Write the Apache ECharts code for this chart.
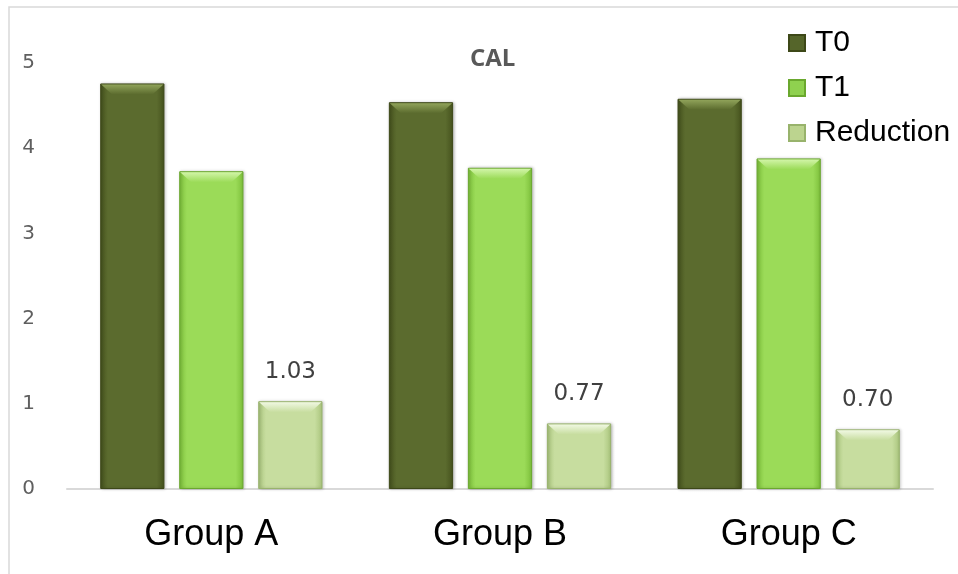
<!DOCTYPE html>
<html>
<head>
<meta charset="utf-8">
<script src="https://cdn.jsdelivr.net/npm/echarts@6/dist/echarts.min.js"></script>
<style>
  html, body { margin: 0; padding: 0; background: #fff; }
  #chart { width: 958px; height: 574px; }
</style>
</head>
<body>
<div id="chart"></div>
<script>
// CAL values per group: baseline (T0), follow-up (T1) and their difference
const groups = ['Group A', 'Group B', 'Group C'];
const t0 = [4.76, 4.54, 4.58];
const t1 = [3.73, 3.77, 3.88];
const reduction = [1.03, 0.77, 0.70];
const yTicks = [0, 1, 2, 3, 4, 5];

const seriesNames = ['T0', 'T1', 'Reduction'];
const seriesValues = [t0, t1, reduction];

const GAP_RATIO = 0.23;      // barGap and barCategoryGap
const BEVEL = 11;            // depth of the bevelled top, px

// horizontal shading so each bar looks slightly bevelled
function bevel(edge, mid) {
  return new echarts.graphic.LinearGradient(0, 0, 1, 0, [
    { offset: 0, color: edge },
    { offset: 0.12, color: mid },
    { offset: 0.88, color: mid },
    { offset: 1, color: edge }
  ]);
}

const palette = {
  T0: { edge: '#45521d', mid: '#5b6b2e', border: '#3d4818', legend: '#55652a', cap: '#90a35a' },
  T1: { edge: '#7cbf3a', mid: '#9bdb58', border: '#6aa82e', legend: '#8fd14f', cap: '#d2f5a8' },
  Reduction: { edge: '#a9c47c', mid: '#c7dd9f', border: '#98b36c', legend: '#bcd48f', cap: '#f0f8e2' }
};

function barSeries(name, values, withLabel) {
  const p = palette[name];
  return {
    name: name,
    type: 'bar',
    data: values,
    barGap: (GAP_RATIO * 100) + '%',
    barCategoryGap: (GAP_RATIO * 100) + '%',
    itemStyle: {
      color: bevel(p.edge, p.mid),
      borderColor: p.border,
      borderWidth: 1,
      shadowColor: 'rgba(0,0,0,0.25)',
      shadowBlur: 3,
      shadowOffsetX: 1
    },
    label: withLabel ? {
      show: true,
      position: 'top',
      distance: 18,
      formatter: function (d) { return d.value.toFixed(2); },
      fontFamily: 'DejaVu Sans',
      fontSize: 23,
      color: '#404040'
    } : { show: false },
    z: 2
  };
}

// lighter trapezoid on top of every bar (the bevelled cap)
const capData = [];
seriesValues.forEach(function (vals, s) {
  vals.forEach(function (v, g) { capData.push([g, v, s]); });
});

function renderCap(params, api) {
  const g = api.value(0), v = api.value(1), s = api.value(2);
  const catW = api.size([1, 0])[0];
  const n = seriesNames.length;
  const usable = catW * (1 - GAP_RATIO);
  const w = usable / (n + (n - 1) * GAP_RATIO);
  const base = api.coord([g, 0]);
  const x0 = base[0] - usable / 2 + s * w * (1 + GAP_RATIO);
  const x1 = x0 + w;
  const top = api.coord([g, v])[1];
  const b = Math.min(BEVEL, (base[1] - top) / 2);
  const c = palette[seriesNames[s]];
  return {
    type: 'polygon',
    shape: {
      points: [[x0 + 1, top + 1], [x1 - 1, top + 1], [x1 - 1 - b, top + b], [x0 + 1 + b, top + b]]
    },
    style: {
      fill: new echarts.graphic.LinearGradient(0, 0, 0, 1, [
        { offset: 0, color: c.cap },
        { offset: 1, color: c.mid }
      ])
    }
  };
}

const chart = echarts.init(document.getElementById('chart'));
chart.setOption({
  animation: false,
  backgroundColor: '#ffffff',
  graphic: [{
    type: 'rect',
    shape: { x: 9, y: 7, width: 980, height: 600 },
    style: { fill: 'none', stroke: '#d9d9d9', lineWidth: 1.5 },
    silent: true
  }],
  title: {
    text: 'CAL',
    left: 465,
    top: 42,
    textStyle: {
      fontFamily: 'Open Sans',
      fontWeight: 'bold',
      fontSize: 24,
      color: '#595959'
    }
  },
  legend: {
    orient: 'vertical',
    left: 783,
    top: 23,
    itemWidth: 16,
    itemHeight: 16,
    itemGap: 15,
    icon: 'rect',
    textStyle: {
      fontFamily: 'Liberation Sans',
      fontSize: 30,
      color: '#000000',
      padding: [0, 0, 0, 5]
    },
    data: [
      { name: 'T0', itemStyle: { color: palette.T0.legend } },
      { name: 'T1', itemStyle: { color: palette.T1.legend } },
      { name: 'Reduction', itemStyle: { color: palette.Reduction.legend } }
    ]
  },
  grid: { left: 67, right: 25, top: 63, bottom: 85, containLabel: false },
  xAxis: {
    type: 'category',
    data: groups,
    axisTick: { show: false },
    axisLine: { lineStyle: { color: '#d9d9d9', width: 2 } },
    axisLabel: {
      margin: 28,
      fontFamily: 'Liberation Sans',
      fontSize: 36,
      color: '#000000'
    }
  },
  yAxis: {
    type: 'value',
    min: 0,
    max: 5,
    interval: 1,
    splitLine: { show: false },
    axisLine: { show: false },
    axisTick: { show: false },
    axisLabel: {
      margin: 32,
      fontFamily: 'DejaVu Sans',
      fontSize: 20,
      color: '#5f5f5f',
      formatter: function (v) { return yTicks.indexOf(v) >= 0 ? String(v) : ''; }
    }
  },
  series: [
    barSeries('T0', t0, false),
    barSeries('T1', t1, false),
    barSeries('Reduction', reduction, true),
    {
      name: 'cap',
      type: 'custom',
      data: capData,
      renderItem: renderCap,
      silent: true,
      z: 3
    }
  ]
});
</script>
</body>
</html>
